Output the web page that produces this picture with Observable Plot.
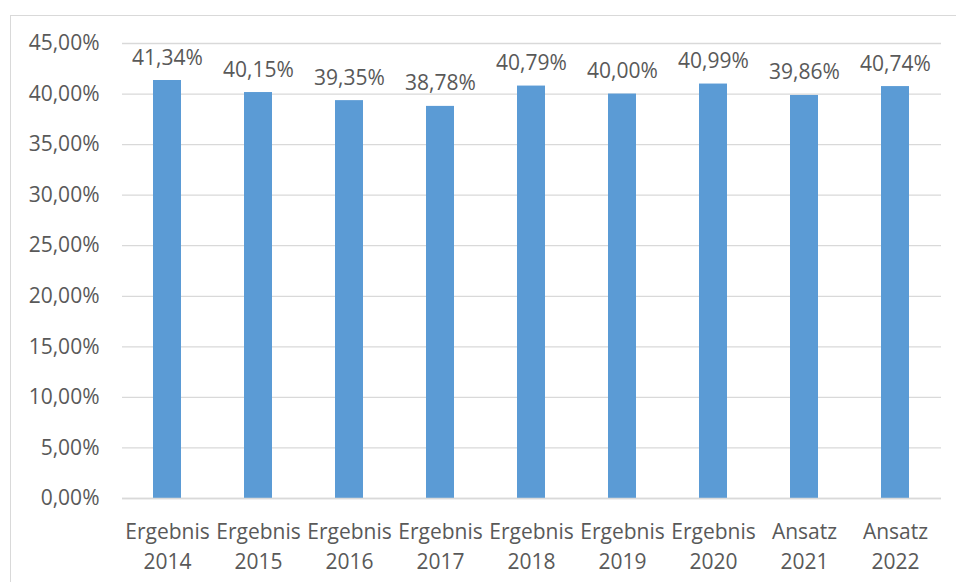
<!DOCTYPE html>
<html>
<head>
<meta charset="utf-8">
<script src="https://cdn.jsdelivr.net/npm/d3@7"></script>
<script src="https://cdn.jsdelivr.net/npm/@observablehq/plot@0.6"></script>
<style>
  html, body { margin: 0; padding: 0; background: #fff; overflow: hidden; }
  #wrap { position: relative; width: 956px; height: 582px; }
  #border { position: absolute; left: 10px; top: 15px; width: 1000px; height: 700px; border: 1.3px solid #d9d9d9; box-sizing: border-box; }
  #chart { position: absolute; left: 0; top: 0; }
</style>
</head>
<body>
<div id="wrap"><div id="border"></div><div id="chart"></div></div>
<script>
const categories = ["Ergebnis\n2014", "Ergebnis\n2015", "Ergebnis\n2016", "Ergebnis\n2017", "Ergebnis\n2018", "Ergebnis\n2019", "Ergebnis\n2020", "Ansatz\n2021", "Ansatz\n2022"];
const values = [41.34, 40.15, 39.35, 38.78, 40.79, 40.00, 40.99, 39.86, 40.74];
const yTicks = [0, 5, 10, 15, 20, 25, 30, 35, 40, 45];

const data = categories.map((c, i) => ({category: c, value: values[i]}));
const fmt = v => v.toFixed(2).replace(".", ",") + "%";
const textColor = "#595959";

const chart = Plot.plot({
  width: 956,
  height: 582,
  marginLeft: 122,
  marginRight: 15,
  marginTop: 43,
  marginBottom: 84,
  style: {fontFamily: "'Open Sans', sans-serif", fontSize: "21px", color: textColor, background: "transparent"},
  x: {domain: categories, paddingInner: 0.69, paddingOuter: 0.345, label: null},
  y: {domain: [0, 45], label: null},
  marks: [
    Plot.gridY(yTicks, {stroke: "#d9d9d9", strokeOpacity: 1, strokeWidth: 1.3}),
    Plot.axisY(yTicks, {tickSize: 0, tickPadding: 23, tickFormat: fmt, fill: textColor, fontSize: 21, label: null}),
    Plot.barY(data, {x: "category", y: "value", fill: "#5b9bd5"}),
    Plot.ruleY([0], {stroke: "#d9d9d9", strokeWidth: 1.3}),
    Plot.axisX({tickSize: 0, tickPadding: 20, lineHeight: 1.4, fill: textColor, fontSize: 21, label: null}),
    Plot.text(data, {x: "category", y: "value", text: d => fmt(d.value), lineAnchor: "bottom", dy: -16, fill: textColor, fontSize: 21})
  ]
});
document.getElementById("chart").appendChild(chart);
</script>
</body>
</html>
